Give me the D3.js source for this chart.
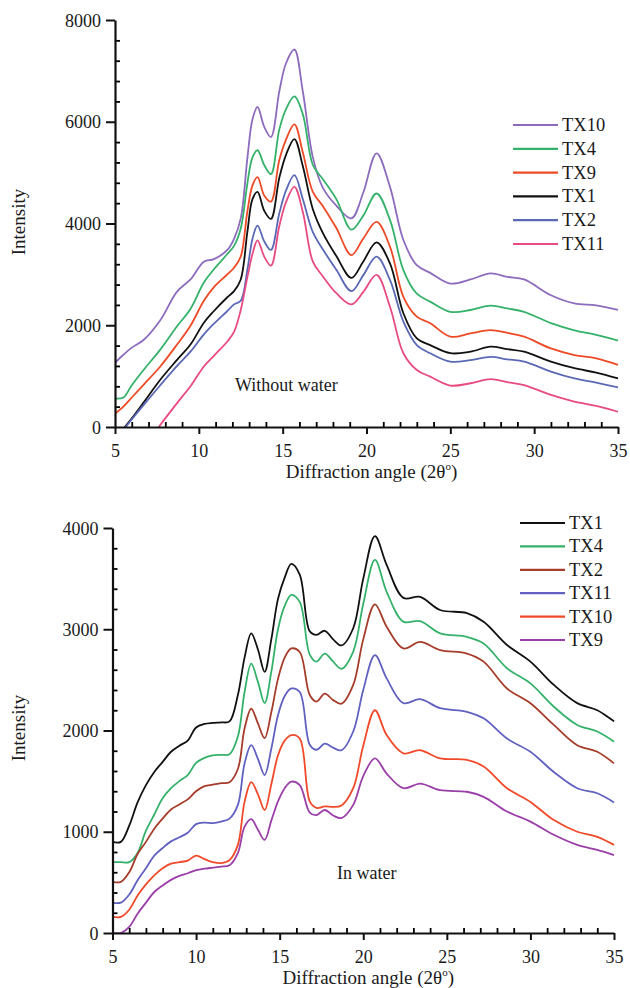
<!DOCTYPE html>
<html>
<head>
<meta charset="utf-8">
<script src="https://cdn.jsdelivr.net/npm/d3@7"></script>
<style>
body { margin: 0; background: #fff; }
svg text { font-family: "Liberation Serif", "Times New Roman", serif; fill: #1a1a1a; }
</style>
</head>
<body>
<div id="container"></div>
<script>
// top panel: without water
var xTop = [5, 5.5, 6, 6.7, 7.7, 8.7, 9.5, 10.3, 10.9, 11.7, 12.1, 12.5, 12.9, 13.2, 13.5, 13.9, 14.3, 14.8, 15.2, 15.7,
    16.2, 16.8, 17.4, 18.2, 19.1, 19.8, 20.6, 21.4, 22.2, 23, 23.8, 25, 26.2, 27.4, 28.4, 29.4, 31, 32.4, 33.7, 35];
var topTX10 = [1260, 1420, 1560, 1710, 2100, 2660, 2900, 3250, 3300, 3480, 3700, 4100, 5300, 6050, 6290, 5900, 5700, 6600, 7150, 7420,
    6600, 5300, 4700, 4350, 4100, 4600, 5380, 4720, 3675, 3180, 3030, 2820, 2900, 3020, 2950, 2900, 2590, 2430, 2390, 2300];
var topTX4 = [560, 580, 820, 1120, 1520, 1980, 2320, 2840, 3100, 3400, 3560, 3900, 4800, 5300, 5440, 5150, 4970, 5850, 6250, 6500,
    6150, 5150, 4870, 4480, 3880, 4150, 4590, 4070, 3085, 2620, 2465, 2265, 2300, 2385, 2330, 2265, 2040, 1900, 1810, 1700];
var topTX9 = [260, 400, 580, 830, 1190, 1620, 1990, 2480, 2750, 3000, 3130, 3350, 4250, 4750, 4910, 4550, 4430, 5250, 5650, 5950,
    5400, 4620, 4340, 3910, 3380, 3700, 4030, 3545, 2560, 2170, 2040, 1775, 1840, 1905, 1850, 1775, 1545, 1415, 1350, 1220];
var topTX1 = [-300, -40, 170, 480, 930, 1320, 1620, 2050, 2280, 2550, 2670, 2900, 3850, 4480, 4620, 4250, 4090, 4900, 5350, 5660,
    5130, 4280, 3810, 3360, 2930, 3250, 3630, 3215, 2235, 1740, 1610, 1450, 1480, 1580, 1530, 1480, 1285, 1155, 1070, 955];
var topTX2 = [-320, -60, 150, 430, 820, 1200, 1480, 1820, 2030, 2280, 2410, 2480, 3100, 3700, 3960, 3650, 3480, 4200, 4650, 4950,
    4480, 3830, 3490, 3090, 2670, 2980, 3350, 2890, 2070, 1610, 1450, 1285, 1315, 1380, 1330, 1285, 1090, 955, 870, 780];
var topTX11 = [-1150, -930, -720, -420, 40, 470, 800, 1190, 1400, 1680, 1870, 2300, 2950, 3400, 3670, 3350, 3170, 3950, 4420, 4720,
    4230, 3250, 2960, 2630, 2410, 2650, 2990, 2365, 1450, 1120, 990, 815, 860, 940, 880, 825, 630, 500, 415, 300];

// bottom panel: in water
var xBot = [5, 5.5, 6, 6.5, 7, 7.5, 8, 8.5, 9, 9.5, 10, 10.5, 11, 11.5, 12, 12.5, 12.9, 13.3, 13.7, 14.1, 14.5, 14.9, 15.3, 15.7,
    16.2, 16.8, 17.2, 17.7, 18.2, 18.7, 19.4, 20, 20.7, 21.4, 22.4, 23.4, 24.6, 26.2, 27.2, 28.6, 30, 31.4, 32.8, 34, 35];
var botTX1 = [900, 900, 1060, 1290, 1460, 1590, 1690, 1790, 1850, 1900, 2030, 2065, 2075, 2080, 2090, 2350, 2720, 2960, 2800, 2580, 2900, 3300, 3510, 3645,
    3540, 2980, 2945, 2985, 2900, 2840, 3010, 3500, 3920, 3635, 3310, 3320, 3190, 3160, 3075, 2845, 2680, 2450, 2270, 2200, 2090];
var botTX4 = [700, 700, 700, 790, 1010, 1170, 1330, 1430, 1500, 1560, 1680, 1730, 1755, 1760, 1765, 1940, 2380, 2660, 2480, 2270, 2580, 3000, 3230, 3340,
    3270, 2750, 2680, 2760, 2680, 2610, 2780, 3250, 3685, 3370, 3075, 3080, 2960, 2925, 2860, 2615, 2465, 2235, 2055, 1990, 1890];
var botTX2 = [505, 505, 600, 780, 900, 1030, 1130, 1220, 1270, 1320, 1400, 1450, 1465, 1480, 1490, 1620, 2020, 2215, 2070, 1925, 2180, 2510, 2720, 2810,
    2775, 2350, 2285, 2365, 2300, 2265, 2450, 2900, 3245, 3025, 2810, 2875, 2795, 2760, 2680, 2415, 2270, 2055, 1855, 1790, 1675];
var botTX11 = [300, 300, 380, 520, 640, 765, 840, 905, 945, 990, 1075, 1090, 1085, 1100, 1130, 1265, 1675, 1855, 1720, 1560, 1820, 2150, 2340, 2415,
    2380, 1860, 1810, 1870, 1830, 1805, 1990, 2400, 2745, 2515, 2270, 2310, 2220, 2185, 2120, 1920, 1790, 1590, 1430, 1380, 1290];
var botTX10 = [160, 160, 230, 370, 480, 570, 640, 685, 700, 715, 765, 730, 700, 690, 720, 870, 1295, 1490, 1370, 1215, 1470, 1755, 1900, 1955,
    1920, 1300, 1235, 1250, 1245, 1260, 1430, 1850, 2200, 1955, 1775, 1805, 1725, 1710, 1645, 1430, 1295, 1115, 1000, 950, 870];
var botTX9 = [0, 0, 60, 190, 300, 405, 470, 525, 565, 590, 620, 635, 645, 655, 670, 790, 1050, 1125, 1020, 920, 1110, 1300, 1430, 1495,
    1460, 1190, 1165, 1215, 1160, 1135, 1265, 1550, 1725, 1575, 1430, 1475, 1410, 1395, 1345, 1200, 1100, 970, 870, 820, 770];

var topNames = ['TX10', 'TX4', 'TX9', 'TX1', 'TX2', 'TX11'];
var topColors = ['#8d6cbd', '#35b26a', '#ee4a26', '#111111', '#5a68b6', '#e84a82'];
var topValues = [topTX10, topTX4, topTX9, topTX1, topTX2, topTX11];
var botNames = ['TX1', 'TX4', 'TX2', 'TX11', 'TX10', 'TX9'];
var botColors = ['#111111', '#35b26a', '#a63c2a', '#6061c0', '#f04a2a', '#9a3ea8'];
var botValues = [botTX1, botTX4, botTX2, botTX11, botTX10, botTX9];

var xMajor = [5, 10, 15, 20, 25, 30, 35];
var topYMajor = [0, 2000, 4000, 6000, 8000];
var botYMajor = [0, 1000, 2000, 3000, 4000];

var serif = '"Liberation Serif", "Times New Roman", serif';
var width = 630,
    height = 988;
var svg = d3.select('#container')
    .append('svg')
    .attr('width', width)
    .attr('height', height);

function panel(opt) {
    var scaleX = d3.scaleLinear().domain([5, 35]).range([opt.left, opt.right]);
    var scaleY = d3.scaleLinear().domain([0, opt.ymax]).range([opt.bottom, opt.top]);
    var g = svg.append('g');

    g.append('clipPath').attr('id', opt.id)
        .append('rect')
        .attr('x', opt.left).attr('y', opt.top - 5)
        .attr('width', opt.right - opt.left + 2).attr('height', opt.bottom - opt.top + 5);

    var line = d3.line()
        .x(function(d) { return scaleX(d[0]); })
        .y(function(d) { return scaleY(d[1]); })
        .curve(d3.curveCatmullRom.alpha(0.5));

    opt.values.forEach(function(vals, i) {
        g.append('path')
            .attr('clip-path', 'url(#' + opt.id + ')')
            .attr('d', line(d3.zip(opt.xs, vals)))
            .attr('fill', 'none')
            .attr('stroke', opt.colors[i])
            .attr('stroke-width', 1.8);
    });

    // minor ticks pointing inward
    var minorX = d3.range(5, 36, 1).filter(function(v) { return v % 5 !== 0; });
    var minorY = d3.range(0, opt.ymax, opt.ymax / 20).filter(function(v) { return v % (opt.ymax / 4) !== 0; });
    g.append('g')
        .attr('transform', 'translate(0,' + opt.bottom + ')')
        .call(d3.axisBottom(scaleX).tickValues(minorX).tickSize(-5).tickFormat(''))
        .call(function(a) { a.select('.domain').remove(); a.selectAll('line').attr('stroke-width', 1.8); });
    g.append('g')
        .attr('transform', 'translate(' + opt.left + ',0)')
        .call(d3.axisLeft(scaleY).tickValues(minorY).tickSize(-5).tickFormat(''))
        .call(function(a) { a.select('.domain').remove(); a.selectAll('line').attr('stroke-width', 1.8); });

    var xAxis = g.append('g')
        .attr('transform', 'translate(0,' + opt.bottom + ')')
        .call(d3.axisBottom(scaleX).tickValues(xMajor).tickFormat(d3.format('d'))
            .tickSize(7).tickSizeOuter(0).tickPadding(10));
    var yAxis = g.append('g')
        .attr('transform', 'translate(' + opt.left + ',0)')
        .call(d3.axisLeft(scaleY).tickValues(opt.yticks).tickFormat(d3.format('d'))
            .tickSize(9).tickSizeOuter(0).tickPadding(5));
    [xAxis, yAxis].forEach(function(a) {
        a.attr('font-family', serif).attr('font-size', 18);
        a.select('.domain').attr('stroke', '#111').attr('stroke-width', 2.2);
        a.selectAll('line').attr('stroke', '#111').attr('stroke-width', 2);
        a.selectAll('text').attr('fill', '#1a1a1a');
    });
    yAxis.selectAll('text').attr('dy', '0.34em');

    g.append('text')
        .attr('transform', 'translate(25,' + opt.ylabelY + ') rotate(-90)')
        .attr('text-anchor', 'middle')
        .style('font-size', '19px')
        .text('Intensity');

    var xt = g.append('text')
        .attr('x', (opt.left + opt.right) / 2 + 5)
        .attr('y', opt.bottom + 51)
        .attr('text-anchor', 'middle')
        .style('font-size', '19px');
    xt.append('tspan').text('Diffraction angle (2θ');
    xt.append('tspan').attr('dy', -8).style('font-size', '11px').text('o');
    xt.append('tspan').attr('dy', 8).text(')');

    g.append('text')
        .attr('x', opt.noteX).attr('y', opt.noteY)
        .style('font-size', '18px')
        .text(opt.note);

    var leg = g.append('g');
    opt.names.forEach(function(n, i) {
        var y = opt.legY + i * opt.legStep;
        leg.append('line')
            .attr('x1', opt.legX).attr('x2', opt.legX + 45)
            .attr('y1', y).attr('y2', y)
            .attr('stroke', opt.colors[i]).attr('stroke-width', 2.2);
        leg.append('text')
            .attr('x', opt.legX + 49).attr('y', y + 6)
            .style('font-size', '18.5px')
            .text(n);
    });
}

panel({
    id: 'clipTop', left: 115, right: 618, top: 20, bottom: 427, ymax: 8000,
    xs: xTop, values: topValues, names: topNames, colors: topColors, yticks: topYMajor,
    ylabelY: 222, note: 'Without water', noteX: 235, noteY: 391,
    legX: 513, legY: 125, legStep: 23.8
});
panel({
    id: 'clipBot', left: 112.5, right: 614, top: 528, bottom: 933, ymax: 4000,
    xs: xBot, values: botValues, names: botNames, colors: botColors, yticks: botYMajor,
    ylabelY: 728, note: 'In water', noteX: 337, noteY: 879,
    legX: 520, legY: 523, legStep: 23.4
});
</script>
</body>
</html>
